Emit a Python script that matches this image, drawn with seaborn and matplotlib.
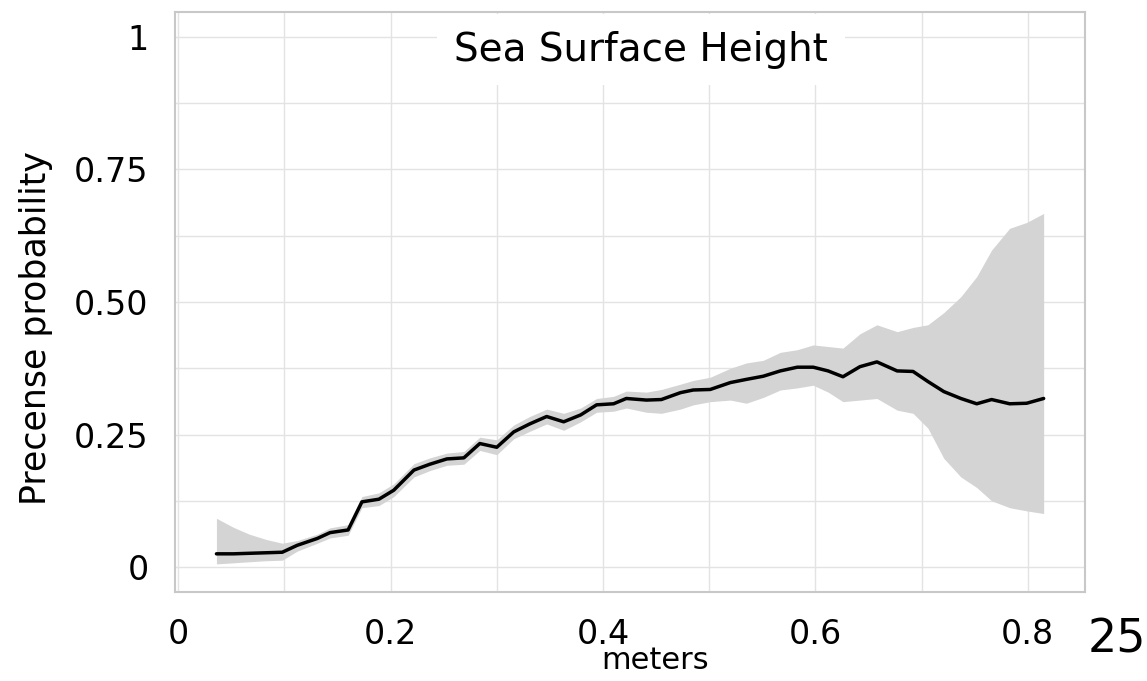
import matplotlib
matplotlib.use("Agg")
import matplotlib.pyplot as plt
import seaborn as sns
import numpy as np

# values
meters = [0.036, 0.052, 0.067, 0.083, 0.098, 0.112, 0.131, 0.143, 0.160, 0.173,
          0.189, 0.203, 0.222, 0.237, 0.253, 0.269, 0.284, 0.300, 0.316, 0.331,
          0.347, 0.363, 0.379, 0.394, 0.410, 0.422, 0.441, 0.455, 0.473, 0.485,
          0.501, 0.520, 0.535, 0.551, 0.567, 0.583, 0.598, 0.612, 0.626, 0.642,
          0.658, 0.677, 0.692, 0.706, 0.721, 0.737, 0.752, 0.766, 0.783, 0.799,
          0.815]
presence = [0.025, 0.025, 0.026, 0.027, 0.028, 0.041, 0.054, 0.065, 0.070, 0.123,
            0.128, 0.145, 0.183, 0.194, 0.204, 0.206, 0.233, 0.226, 0.255, 0.270,
            0.284, 0.274, 0.287, 0.306, 0.308, 0.318, 0.315, 0.316, 0.329, 0.334,
            0.335, 0.348, 0.354, 0.360, 0.370, 0.377, 0.377, 0.370, 0.359, 0.378,
            0.387, 0.370, 0.369, 0.350, 0.331, 0.318, 0.308, 0.316, 0.308, 0.309,
            0.318]
upper = [0.092, 0.075, 0.062, 0.052, 0.045, 0.050, 0.062, 0.074, 0.080, 0.133,
         0.140, 0.157, 0.195, 0.206, 0.215, 0.218, 0.245, 0.240, 0.268, 0.284,
         0.298, 0.290, 0.300, 0.318, 0.322, 0.332, 0.330, 0.335, 0.345, 0.352,
         0.358, 0.375, 0.385, 0.390, 0.405, 0.410, 0.419, 0.416, 0.413, 0.440,
         0.457, 0.444, 0.452, 0.457, 0.480, 0.510, 0.548, 0.598, 0.639, 0.650,
         0.667]
lower = [0.006, 0.008, 0.010, 0.012, 0.013, 0.030, 0.045, 0.055, 0.060, 0.112,
         0.116, 0.133, 0.170, 0.182, 0.192, 0.194, 0.220, 0.212, 0.242, 0.256,
         0.270, 0.258, 0.274, 0.292, 0.294, 0.300, 0.292, 0.290, 0.298, 0.306,
         0.312, 0.315, 0.309, 0.320, 0.334, 0.338, 0.343, 0.330, 0.312, 0.315,
         0.318, 0.296, 0.290, 0.262, 0.205, 0.170, 0.150, 0.125, 0.112, 0.106,
         0.101]

x_ticks = [0, 0.2, 0.4, 0.6, 0.8]
x_labels = ["0", "0.2", "0.4", "0.6", "0.8"]
y_ticks = [0, 0.25, 0.5, 0.75, 1]
y_labels = ["0", "0.25", "0.50", "0.75", "1"]

sns.set_style("white")
plt.rcParams["font.family"] = ["DejaVu Sans"]
plt.rcParams["text.color"] = "black"
plt.rcParams["axes.labelcolor"] = "black"
plt.rcParams["xtick.color"] = "black"
plt.rcParams["ytick.color"] = "black"

fig = plt.figure(figsize=(11.47, 6.81), dpi=100)
ax = fig.add_axes([0.1526, 0.1307, 0.7934, 0.8517])

# Uncertainty band, then the mean response curve
ax.fill_between(meters, lower, upper, color="#d4d4d4", linewidth=0, zorder=2)
sns.lineplot(x=meters, y=presence, color="black", linewidth=2.5, ax=ax, zorder=3)

ax.set_xlim(-0.003, 0.854)
ax.set_ylim(-0.047, 1.047)

ax.set_xticks(x_ticks)
ax.set_xticklabels(x_labels, fontsize=24)
ax.set_xticks(np.arange(0.1, 0.85, 0.2), minor=True)
ax.set_yticks(y_ticks)
ax.set_yticklabels(y_labels, fontsize=24)
ax.set_yticks(np.arange(0.125, 1.0, 0.25), minor=True)

ax.grid(True, which="both", color="#e3e3e3", linewidth=1.0, zorder=0)
ax.set_axisbelow(True)
ax.tick_params(axis="x", which="major", length=5, color="#bbbbbb", pad=14)
ax.tick_params(axis="y", which="major", length=7, color="#bbbbbb", pad=12)
ax.tick_params(which="minor", length=0)

for spine in ax.spines.values():
    spine.set_color("#c8c8c8")
    spine.set_linewidth(1.5)

ax.set_xlabel("meters", fontsize=22, va="center")
ax.xaxis.set_label_coords(0.527, -0.118)
ax.set_ylabel("Precense probability", fontsize=25)
ax.yaxis.set_label_coords(-0.134, 0.455)

# Title sits in a white box over the top border
ax.text(0.512, 0.935, "Sea Surface Height", transform=ax.transAxes,
        ha="center", va="center", fontsize=28, zorder=5,
        bbox=dict(facecolor="white", edgecolor="none", pad=12))

# slide page number
fig.text(0.974, 0.06, "25", ha="center", va="center", fontsize=33)

fig.savefig("out.png", dpi=100)
